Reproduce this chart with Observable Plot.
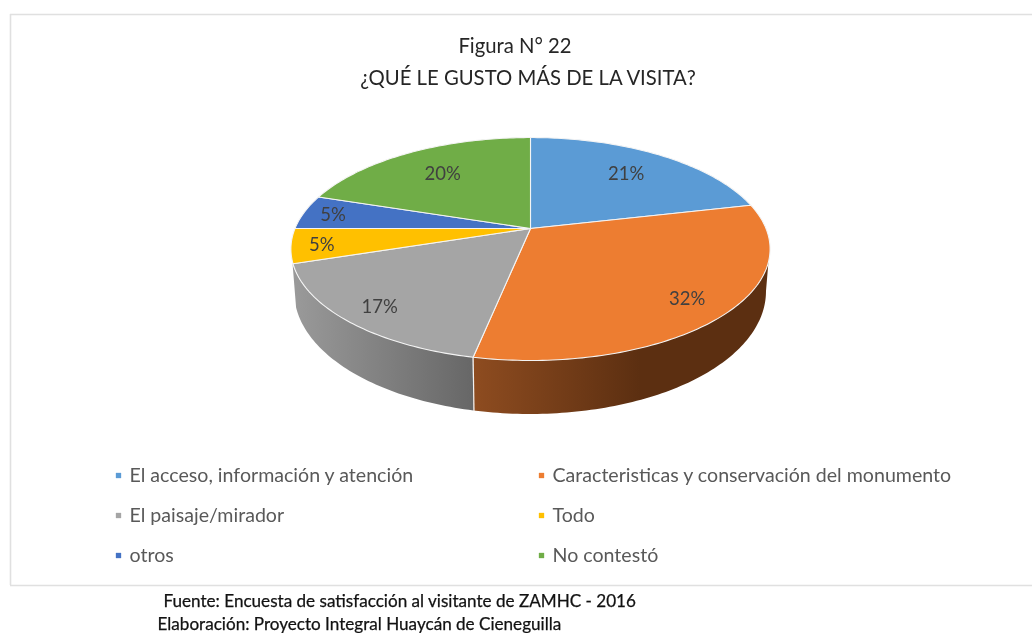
<!DOCTYPE html>
<html>
<head>
<meta charset="utf-8">
<script src="https://cdn.jsdelivr.net/npm/d3@7"></script>
<script src="https://cdn.jsdelivr.net/npm/@observablehq/plot@0.6"></script>
<style>
html,body{margin:0;padding:0;background:#fff;}
svg{display:block;filter:blur(0.5px);}
</style>
</head>
<body>
<div id="chart"></div>
<script>
const categories = ["El acceso, información y atención","Caracteristicas y conservación del monumento","El paisaje/mirador","Todo","otros","No contestó"];
const values = [21.4,31.8,16.8,5,5,20];
const colors = ["#5b9bd5","#ed7d31","#a5a5a5","#ffc000","#4472c4","#70ad47"];
const sideLeft = [null,"#8e4c20","#9a9a9a",null,null,null];
const sideRight = [null,"#5c2f11","#676767",null,null,null];
const titleLines = ["Figura N° 22","¿QUÉ LE GUSTO MÁS DE LA VISITA?"];
const footerLines = ["Fuente: Encuesta de satisfacción al visitante de ZAMHC - 2016","Elaboración: Proyecto Integral Huaycán de Cieneguilla"];

// layout of the tilted pie: perspective projection of a flat disc
const cx = 530, cy = 228, A = 235.5, B = 107.7, p = 0.184, shrink = 0.985;
const labelRadius = [0.72,0.83,0.85,0.875,0.87,0.70];
const font = "Lato, Carlito, sans-serif";

const project = (theta, r = 1) => {
  const u = r*Math.sin(theta), v = r*Math.cos(theta), w = 1 + p*v;
  return {x: cx + A*u/w, y: cy - B*v/w, v};
};
const depthAt = v => 40 - 14*v;  // nearer rim looks taller
const bottomX = x => cx + (x - cx)*shrink; // lower rim is slightly narrower
const total = d3.sum(values);
let acc = 0;
const slices = values.map((v,i) => {
  const a0 = acc/total*2*Math.PI; acc += v; const a1 = acc/total*2*Math.PI;
  return {i, v, a0, a1, color: colors[i], label: Math.round(v) + "%"};
});

const STEP = Math.PI/180;
const faces = slices.flatMap(s => {
  const pts = [{...project(0,0), slice:s.i, color:s.color}];
  const n = Math.max(2, Math.ceil((s.a1-s.a0)/STEP));
  for (let k=0;k<=n;k++) pts.push({...project(s.a0+(s.a1-s.a0)*k/n), slice:s.i, color:s.color});
  pts.push({...project(0,0), slice:s.i, color:s.color});
  return pts;
});

// visible part of the rim runs between the two tangent points
const tangent = Math.acos(-p);
const sideData = slices.filter(s => sideLeft[s.i]).map(s => {
  const a0 = Math.max(s.a0, tangent), a1 = Math.min(s.a1, 2*Math.PI - tangent);
  const n = Math.ceil((a1-a0)/STEP), pts = [];
  for (let k=0;k<=n;k++) {
    const P = project(a0+(a1-a0)*k/n);
    pts.push({x1:P.x, y1:P.y, x2:bottomX(P.x), y2:P.y+depthAt(P.v)});
  }
  const xs = pts.map(d=>d.x1);
  return {i:s.i, pts, xLeft:d3.min(xs), xRight: s.i === 1 ? 640 : d3.max(xs)};
});
const seam = [project(slices[1].a1)].map(d => ({x1:d.x,y1:d.y,x2:bottomX(d.x),y2:d.y+depthAt(d.v)}));

const gradients = (index, {x}) => {
  const ns = "http://www.w3.org/2000/svg";
  const defs = document.createElementNS(ns,"defs");
  for (const d of sideData) {
    const g = document.createElementNS(ns,"linearGradient");
    g.setAttribute("id","side"+d.i);
    g.setAttribute("gradientUnits","userSpaceOnUse");
    g.setAttribute("x1",x(d.xLeft)); g.setAttribute("x2",x(d.xRight));
    g.setAttribute("y1",0); g.setAttribute("y2",0);
    [[0,sideLeft[d.i]],[1,sideRight[d.i]]].forEach(([o,c]) => {
      const st = document.createElementNS(ns,"stop");
      st.setAttribute("offset",o); st.setAttribute("stop-color",c); g.appendChild(st);
    });
    defs.appendChild(g);
  }
  return defs;
};

const labels = slices.map(s => ({...project((s.a0+s.a1)/2, labelRadius[s.i]), text:s.label}));

const legendX = [118,541], legendY = [475,515,555];
const legend = categories.map((c,i) => ({c, color:colors[i], x:legendX[i%2], y:legendY[Math.floor(i/2)]}));

const chart = Plot.plot({
  width:1032, height:633,
  marginLeft:10, marginRight:0, marginTop:14, marginBottom:48,
  x:{domain:[10,1032], axis:null},
  y:{domain:[585,14], axis:null},
  color:{type:"identity"},
  style:{fontFamily:font, background:"#fff"},
  marks:[
    gradients,
    Plot.ruleY([14,585],{stroke:"#e0e0e0", strokeWidth:1.6}),
    Plot.ruleX([10],{stroke:"#e0e0e0", strokeWidth:1.6}),
    Plot.text(titleLines,{x:(d,i)=>[514.5,527.5][i], y:(d,i)=>[46,78][i], text:d=>d, fontSize:20.3, fill:"#262626"}),
    ...sideData.map(d => Plot.area(d.pts,{x1:"x1", y1:"y1", x2:"x2", y2:"y2", fill:`url(#side${d.i})`})),
    Plot.link(seam,{x1:"x1", y1:"y1", x2:"x2", y2:"y2", stroke:"#f2f2f2", strokeWidth:1.2}),
    Plot.line(faces,{x:"x", y:"y", z:"slice", fill:"color", stroke:"#f4f4f4", strokeWidth:1.1, strokeLinejoin:"round"}),
    Plot.text(labels,{x:"x", y:"y", dy:1, text:"text", fontSize:18.5, fill:"#404040"}),
    Plot.dot(legend,{x:"x", y:"y", symbol:"square", r:3, fill:"color"}),
    Plot.text(legend,{x:d=>d.x+11, y:"y", text:"c", textAnchor:"start", fontSize:19.6, fill:"#595959"}),
    Plot.text(footerLines,{x:(d,i)=>[163,157][i], y:(d,i)=>[601,624.5][i], text:d=>d, textAnchor:"start", fontSize:17.1, fill:"#111", stroke:"#111", strokeWidth:0.25})
  ]
});
document.getElementById("chart").appendChild(chart);
</script>
</body>
</html>
